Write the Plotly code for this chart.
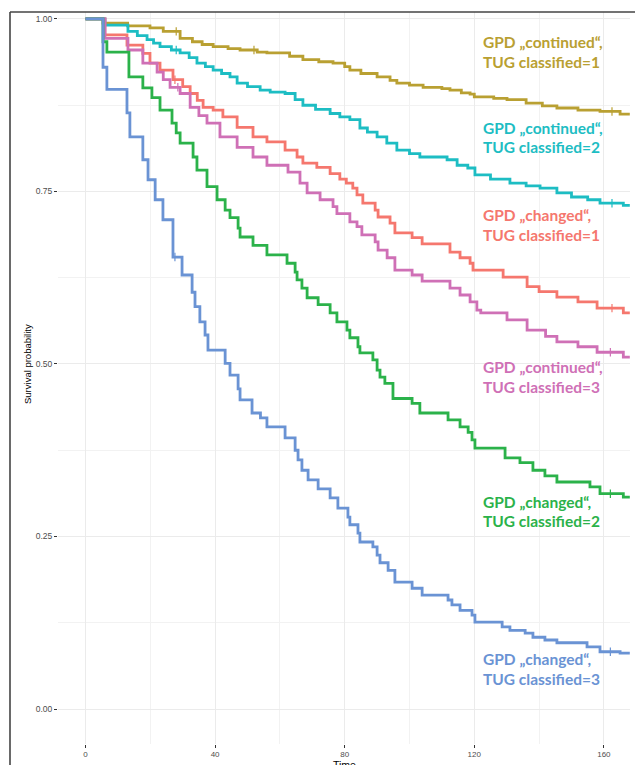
import numpy as np
import plotly.graph_objects as go

# ---------------- data ----------------
END_TIME = 168.0

gold_t = [0, 5.4, 13, 19.9, 24, 29.2, 33, 36, 39.4, 44, 47.7, 53, 56, 63, 67.1, 72, 76.4, 80, 81.6,
          85, 90, 94, 96.1, 100, 104.2, 110, 112.5, 116, 118.7, 120, 126, 130.1, 136, 141, 145.5,
          152, 158.8, 165]
gold_s = [1.0, 0.994, 0.99, 0.987, 0.982, 0.972, 0.967, 0.963, 0.96, 0.957, 0.955, 0.952, 0.951,
          0.946, 0.941, 0.938, 0.936, 0.931, 0.926, 0.921, 0.916, 0.911, 0.907, 0.904, 0.901, 0.899,
          0.897, 0.893, 0.891, 0.887, 0.885, 0.883, 0.878, 0.874, 0.871, 0.868, 0.866, 0.862]

cyan_t = [0, 6.0, 13.1, 16, 19.0, 21, 23.0, 26.5, 29.2, 32, 34.4, 37, 39.4, 42, 44.6, 46.8, 50, 53.9,
          57, 61.6, 64.7, 67.1, 71, 75.5, 78.5, 81.6, 84.7, 87, 90.0, 93, 96.1, 100, 103.2, 111.6,
          114.7, 118, 120.2, 125, 131.0, 136, 140.3, 145.5, 150, 155, 158.8, 166]
cyan_s = [1.0, 0.991, 0.982, 0.976, 0.970, 0.965, 0.96, 0.955, 0.951, 0.944, 0.936, 0.931, 0.926,
          0.921, 0.916, 0.907, 0.902, 0.897, 0.894, 0.892, 0.883, 0.875, 0.869, 0.863, 0.858, 0.854,
          0.842, 0.836, 0.829, 0.82, 0.81, 0.805, 0.80, 0.796, 0.788, 0.784, 0.774, 0.768, 0.762,
          0.758, 0.755, 0.748, 0.742, 0.738, 0.733, 0.730]

red_t = [0, 6.0, 12.8, 17.7, 19.9, 23.0, 27.0, 30, 32.3, 34.5, 36.3, 39.4, 42.4, 46.8, 51.7, 56.0,
         61.6, 65.3, 67.1, 71.4, 75.5, 78.5, 80.5, 82.5, 83.8, 85.6, 89.4, 90.3, 94.0, 95.5, 100.8,
         103.9, 112.5, 115.6, 118.7, 119.6, 128.9, 136.3, 140, 145.5, 152, 157.9, 166]
red_s = [1.0, 0.977, 0.962, 0.95, 0.936, 0.926, 0.912, 0.902, 0.892, 0.882, 0.872, 0.868, 0.858,
         0.843, 0.829, 0.822, 0.81, 0.80, 0.791, 0.785, 0.776, 0.768, 0.762, 0.755, 0.745, 0.733,
         0.723, 0.713, 0.704, 0.69, 0.683, 0.674, 0.662, 0.654, 0.646, 0.636, 0.626, 0.612, 0.605,
         0.597, 0.590, 0.581, 0.574]

pink_t = [0, 6.0, 13.1, 17.7, 22.1, 24, 26.1, 29.2, 32.3, 35, 37.5, 41.5, 46.8, 51.7, 56.0, 62.5,
          66.2, 68.4, 72.4, 76.4, 77.6, 81.6, 83.8, 85.3, 89.4, 90.3, 93.1, 95.5, 100.8, 103.9,
          112.5, 115.6, 118.7, 120.8, 122, 130.1, 136.3, 142, 145.5, 152, 157.9, 166]
pink_s = [1.0, 0.972, 0.955, 0.936, 0.923, 0.912, 0.901, 0.892, 0.872, 0.86, 0.849, 0.829, 0.814,
          0.80, 0.788, 0.778, 0.762, 0.748, 0.738, 0.728, 0.718, 0.706, 0.699, 0.687, 0.677, 0.665,
          0.654, 0.636, 0.629, 0.62, 0.61, 0.60, 0.59, 0.578, 0.574, 0.564, 0.549, 0.54, 0.532,
          0.525, 0.517, 0.51]

green_t = [0, 5.4, 6.6, 13.4, 17.7, 20.5, 23.0, 26.7, 28, 29.2, 33.2, 34.4, 37.5, 40.6, 43.1, 44.6,
           47.1, 47.7, 51.7, 56.0, 62.2, 64.7, 65.3, 66.8, 68.4, 71.8, 75.5, 77.6, 80.7, 81.6, 84.1,
           84.7, 88.7, 90.0, 90.9, 92.4, 94.9, 100.8, 103.2, 111.9, 115.6, 118.1, 119.3, 120.2,
           129.5, 134.1, 138.1, 141.8, 145.5, 155.7, 158.8, 166]
green_s = [1.0, 0.967, 0.952, 0.916, 0.90, 0.886, 0.868, 0.849, 0.835, 0.82, 0.80, 0.781, 0.757,
           0.738, 0.723, 0.712, 0.697, 0.684, 0.672, 0.658, 0.646, 0.633, 0.622, 0.61, 0.596, 0.586,
           0.574, 0.561, 0.549, 0.538, 0.525, 0.516, 0.506, 0.491, 0.481, 0.472, 0.45, 0.443, 0.429,
           0.419, 0.409, 0.401, 0.39, 0.378, 0.364, 0.357, 0.346, 0.338, 0.329, 0.322, 0.312, 0.307]

blue_t = [0, 5.4, 6.6, 12.8, 13.7, 17.7, 19.3, 21.5, 23.9, 27.0, 29.8, 32.9, 33.8, 35.3, 36.9, 37.8,
          43.1, 44.6, 47.1, 47.7, 51.4, 54, 56.0, 61.6, 64.7, 65.6, 66.8, 68.7, 71.8, 75.5, 77.9,
          81.0, 81.6, 84.1, 84.7, 88.7, 90.0, 90.9, 93.4, 95.5, 100.8, 103.9, 111.9, 113.1, 115.6,
          119.3, 120.2, 128.6, 131.0, 135.7, 138.1, 141.8, 145.5, 154.8, 158.8, 165]
blue_s = [1.0, 0.93, 0.898, 0.864, 0.829, 0.796, 0.767, 0.738, 0.709, 0.655, 0.629, 0.604, 0.583,
          0.561, 0.542, 0.52, 0.501, 0.484, 0.464, 0.448, 0.429, 0.422, 0.409, 0.393, 0.375, 0.361,
          0.346, 0.332, 0.319, 0.306, 0.291, 0.278, 0.267, 0.255, 0.242, 0.235, 0.223, 0.212, 0.201,
          0.184, 0.175, 0.165, 0.158, 0.151, 0.143, 0.136, 0.126, 0.119, 0.114, 0.110, 0.104, 0.10,
          0.096, 0.09, 0.083, 0.081]

# censoring marks (times)
gold_c = [28, 52, 162.5]
cyan_c = [28, 162.5]
red_c = [27.6, 162.5]
pink_c = [28.5, 162]
green_c = [162]
blue_c = [27.6, 162]

label_line1 = ['GPD „continued“,', 'GPD „continued“,', 'GPD „changed“,',
               'GPD „continued“,', 'GPD „changed“,', 'GPD „changed“,']
label_line2 = ['TUG classified=1', 'TUG classified=2', 'TUG classified=1',
               'TUG classified=3', 'TUG classified=2', 'TUG classified=3']

x_ticks = [0, 40, 80, 120, 160]
y_ticks = [0.00, 0.25, 0.50, 0.75, 1.00]

# ---------------- styling ----------------
colors = ['#B9A032', '#1DBDC3', '#F5776E', '#CF70B6', '#2BB24A', '#6A93D4']
label_y = [(0.967, 0.938), (0.842, 0.814), (0.716, 0.687),
           (0.496, 0.467), (0.300, 0.272), (0.072, 0.043)]
LABEL_X = 122.1

series = [(gold_t, gold_s, gold_c), (cyan_t, cyan_s, cyan_c), (red_t, red_s, red_c),
          (pink_t, pink_s, pink_c), (green_t, green_s, green_c), (blue_t, blue_s, blue_c)]

fig = go.Figure()


def step_value(ts, ss, t):
    idx = np.searchsorted(np.array(ts), t, side='right') - 1
    return ss[max(idx, 0)]


for (ts, ss, cs), col in zip(series, colors):
    xs = list(ts) + [END_TIME]
    ys = list(ss) + [ss[-1]]
    fig.add_trace(go.Scatter(x=xs, y=ys, mode='lines', line=dict(color=col, width=2.8, shape='hv'),
                             showlegend=False, hoverinfo='skip'))
    fig.add_trace(go.Scatter(x=cs, y=[step_value(ts, ss, c) for c in cs], mode='markers',
                             marker=dict(symbol='line-ns-open', size=6, color=col,
                                         line=dict(color=col, width=1.2)),
                             showlegend=False, hoverinfo='skip'))

for l1, l2, (y1, y2), col in zip(label_line1, label_line2, label_y, colors):
    for txt, yy in ((l1, y1), (l2, y2)):
        fig.add_annotation(x=LABEL_X, y=yy, xref='x', yref='y', text=txt, showarrow=False,
                           xanchor='left', yanchor='middle',
                           font=dict(family='Lato', size=15.5, color=col, weight='bold'))

# axis titles
fig.add_annotation(x=-0.0524, y=0.5, xref='paper', yref='y', text='Survival probability',
                   textangle=-90, showarrow=False, xanchor='center', yanchor='middle',
                   font=dict(family='Liberation Sans', size=9.5, color='#000000'))
fig.add_annotation(x=80, y=-0.0182, xref='x', yref='paper', text='Time', showarrow=False,
                   xanchor='center', yanchor='top',
                   font=dict(family='Liberation Sans', size=10.5, color='#000000'))

# frame lines (page offset of 8px is compensated in margins)
FRAME_X = -48 / 572
fig.add_shape(type='line', xref='paper', yref='paper', x0=FRAME_X, x1=1.03, y0=1.0, y1=1.0,
              line=dict(color='#444444', width=1.6))
fig.add_shape(type='line', xref='paper', yref='paper', x0=FRAME_X, x1=FRAME_X, y0=1.0, y1=-0.05,
              line=dict(color='#444444', width=1.6))

fig.update_layout(
    width=635, height=757,
    margin=dict(l=50, r=13, t=4, b=21, pad=0),
    paper_bgcolor='white', plot_bgcolor='white',
    font=dict(family='Liberation Sans'),
)
fig.update_xaxes(range=[-8.49, 168.06], tickvals=x_ticks, ticktext=[str(v) for v in x_ticks],
                 showgrid=True, gridcolor='#ebebeb', gridwidth=1, zeroline=False, showline=False,
                 ticks='outside', ticklen=2.5, tickcolor='#333333', tickwidth=1,
                 tickfont=dict(size=8, color='#4d4d4d'),
                 minor=dict(tickvals=[20, 60, 100, 140], showgrid=True, gridcolor='#f2f2f2', ticks=''))
fig.update_yaxes(range=[-0.0507, 1.0101], tickvals=y_ticks, ticktext=[f'{v:.2f}' for v in y_ticks],
                 showgrid=True, gridcolor='#ebebeb', gridwidth=1, zeroline=False, showline=False,
                 ticks='outside', ticklen=3, tickcolor='#333333', tickwidth=1,
                 tickfont=dict(size=8.5, color='#4d4d4d'),
                 minor=dict(tickvals=[0.125, 0.375, 0.625, 0.875], showgrid=True,
                            gridcolor='#f2f2f2', ticks=''))

fig.write_html('out.html')
